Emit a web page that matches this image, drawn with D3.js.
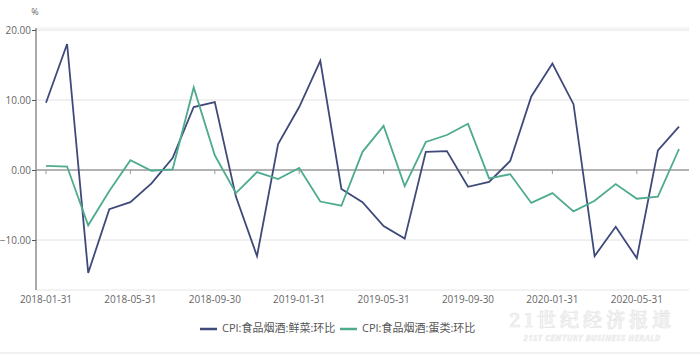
<!DOCTYPE html>
<html>
<head>
<meta charset="utf-8">
<script src="https://cdn.jsdelivr.net/npm/d3@7"></script>
<style>
  body { margin: 0; background: #fff; }
  text { font-family: "Open Sans", "Noto Sans CJK SC", sans-serif; }
</style>
</head>
<body>
<div id="chart"></div>
<script>
// monthly data, 2018-01 .. 2020-07
const months = ["2018-01-31","2018-02-28","2018-03-31","2018-04-30","2018-05-31","2018-06-30","2018-07-31","2018-08-31","2018-09-30","2018-10-31","2018-11-30","2018-12-31",
  "2019-01-31","2019-02-28","2019-03-31","2019-04-30","2019-05-31","2019-06-30","2019-07-31","2019-08-31","2019-09-30","2019-10-31","2019-11-30","2019-12-31",
  "2020-01-31","2020-02-29","2020-03-31","2020-04-30","2020-05-31","2020-06-30","2020-07-31"];
const vegetables = [9.6, 18.0, -14.7, -5.6, -4.6, -1.9, 1.7, 9.0, 9.7, -3.8, -12.3, 3.7,
  9.0, 15.6, -2.7, -4.6, -8.0, -9.8, 2.6, 2.7, -2.4, -1.7, 1.3, 10.5,
  15.2, 9.4, -12.3, -8.1, -12.6, 2.8, 6.2];
const eggs = [0.6, 0.5, -7.9, -3.0, 1.4, -0.1, 0.1, 11.8, 2.1, -3.3, -0.3, -1.3,
  0.3, -4.5, -5.1, 2.6, 6.3, -2.3, 4.0, 5.0, 6.6, -1.2, -0.6, -4.7,
  -3.3, -5.9, -4.4, -2.0, -4.1, -3.8, 3.0];
const xTickLabels = ["2018-01-31","2018-05-31","2018-09-30","2019-01-31","2019-05-31","2019-09-30","2020-01-31","2020-05-31"];
const yTicks = [-10, 0, 10, 20];
const seriesNames = ["CPI:食品烟酒:鲜菜:环比", "CPI:食品烟酒:蛋类:环比"];
const colors = ["#3f4a7b", "#4fab8e"];

const svg = d3.select("#chart")
    .append("svg")
    .attr("width", 700)
    .attr("height", 355);

const x = d3.scalePoint()
    .domain(months)
    .range([46, 679]);

const y = d3.scaleLinear()
    .domain([-17.14, 20])
    .range([290, 30]);

// grid lines
svg.append("g")
    .selectAll("line")
    .data(yTicks.filter(d => d !== 0))
    .join("line")
    .attr("x1", 36).attr("x2", 689)
    .attr("y1", d => y(d)).attr("y2", d => y(d))
    .attr("stroke", "#e2e2e2");
svg.append("line").attr("x1", 36).attr("x2", 689).attr("y1", 28).attr("y2", 28).attr("stroke", "#ececec");
svg.append("line").attr("x1", 36).attr("x2", 689).attr("y1", 290).attr("y2", 290).attr("stroke", "#e6e6e6");

// Y axis
const yAxis = svg.append("g")
    .attr("transform", "translate(36,0)")
    .call(d3.axisLeft(y).tickValues(yTicks).tickFormat(d3.format(".2f")).tickSize(4).tickSizeOuter(0));
yAxis.select(".domain").attr("stroke", "#555").attr("d", "M0,28V290");
yAxis.selectAll(".tick line").attr("stroke", "#555");
yAxis.selectAll(".tick text").attr("fill", "#666").style("font-size", "10px").attr("x", -5);

// zero line with x ticks
svg.append("line").attr("x1", 36).attr("x2", 689).attr("y1", y(0)).attr("y2", y(0)).attr("stroke", "#999").attr("stroke-width", 1.5);
svg.append("g")
    .selectAll("line")
    .data(xTickLabels)
    .join("line")
    .attr("x1", d => x(d)).attr("x2", d => x(d))
    .attr("y1", y(0)).attr("y2", y(0) + 4)
    .attr("stroke", "#999");

// X labels
svg.append("g")
    .selectAll("text")
    .data(xTickLabels)
    .join("text")
    .attr("x", d => x(d))
    .attr("y", 303)
    .attr("text-anchor", "middle")
    .attr("fill", "#666")
    .style("font-size", "10px")
    .text(d => d);

svg.append("text").attr("x", 35).attr("y", 15).attr("text-anchor", "middle").attr("fill", "#666").style("font-size", "9px").text("%");

// lines
const line = d3.line()
    .x((d, i) => x(months[i]))
    .y(d => y(d));

[vegetables, eggs].forEach((s, k) => {
    svg.append("path")
        .datum(s)
        .attr("d", line)
        .attr("fill", "none")
        .attr("stroke", colors[k])
        .attr("stroke-width", 1.8)
        .attr("stroke-linejoin", "miter");
});

// legend
const legendX = [200, 340];
seriesNames.forEach((name, k) => {
    svg.append("line").attr("x1", legendX[k]).attr("x2", legendX[k] + 17).attr("y1", 329).attr("y2", 329)
        .attr("stroke", colors[k]).attr("stroke-width", 2.5);
    svg.append("text").attr("x", legendX[k] + 22).attr("y", 329).attr("dominant-baseline", "middle")
        .attr("fill", "#555").style("font-size", "11px").text(name);
});

// bottom border
svg.append("line").attr("x1", 0).attr("x2", 700).attr("y1", 353).attr("y2", 353).attr("stroke", "#e4e4e4");

// watermark
svg.append("text").attr("x", 592).attr("y", 327).attr("text-anchor", "middle")
    .style("font-family", "'Noto Serif CJK SC', 'DejaVu Serif', serif").style("font-size", "19px").style("font-weight", "bold")
    .style("letter-spacing", "4px")
    .attr("fill", "#f4f4f4").attr("stroke", "#e6e6e6").attr("stroke-width", 0.6)
    .text("21世纪经济报道");
svg.append("text").attr("x", 592).attr("y", 341).attr("text-anchor", "middle")
    .style("font-size", "8px").style("font-style", "italic").style("font-weight", "bold")
    .style("letter-spacing", "0.5px")
    .attr("fill", "#f0f0f0").attr("stroke", "#e8e8e8").attr("stroke-width", 0.4)
    .text("21ST CENTURY BUSINESS HERALD");
</script>
</body>
</html>
